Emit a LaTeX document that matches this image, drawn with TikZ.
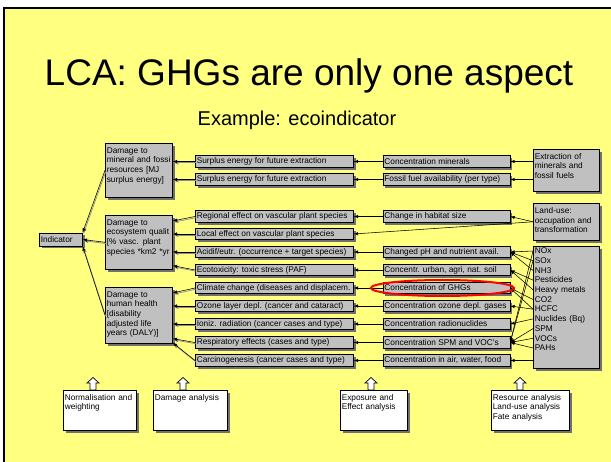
\documentclass[tikz,border=0pt]{standalone}
\usepackage{fontspec}
\setmainfont{Liberation Sans}
\usetikzlibrary{shapes.geometric, arrows, positioning, shadows, calc}

\definecolor{slideyellow}{HTML}{FFFF80}
\definecolor{boxgray}{HTML}{C0C0C0}
\definecolor{boxshade}{HTML}{707070}
\definecolor{arrowshade}{HTML}{8C8C8C}

\begin{document}
\begin{tikzpicture}[x=1pt, y=-1pt,
    box/.style={rectangle, draw, fill=boxgray, line width=0.6pt, inner xsep=1.5pt, font=\fontsize{8.3}{9.6}\selectfont, drop shadow={shadow xshift=2.5pt, shadow yshift=-2.5pt, fill=boxshade, opacity=1}},
    rowbox/.style={box, anchor=west, minimum height=11.5pt, inner ysep=0pt, execute at begin node={\hbox to #1\bgroup}, execute at end node={\hfil\egroup}},
    catbox/.style={rowbox=155pt},
    fatebox/.style={rowbox=124pt},
    tallbox/.style={box, anchor=north west, align=left, text width=#1, inner ysep=2pt, text height=8pt},
    stagebox/.style={tallbox=#1, fill=white},
    arrow/.style={->, >=latex, line width=0.55pt},
    shaded/.style={preaction={draw=arrowshade, line width=0.7pt, transform canvas={shift={(0.8pt,-1.2pt)}}}},
    ring/.style={draw=red, line width=2pt}
  ]
    \useasboundingbox (0,0) rectangle (611,462);
    \fill [white] (0,0) rectangle (611,462);
    \filldraw [fill=slideyellow, draw=black, line width=1.6pt] (4,8) rectangle (625,475);

    \node (title) [font=\fontsize{37}{44}\selectfont, anchor=base] at (309,86) {LCA: GHGs are only one aspect};
    \node (subtitle) [font=\fontsize{20}{24}\selectfont, anchor=base] at (297,126) {Example: ecoindicator};

    % indicator and damage boxes
    \node (ind) [rowbox=40pt, minimum height=13pt] at (39,239.5) {Indicator};
    \node (dmin) [tallbox=64pt, text depth=42pt] at (105,143) {Damage to\\mineral and fossi\\resources [MJ\\surplus energy]};
    \node (deco) [tallbox=64pt, text depth=42pt] at (105,215) {Damage to\\ecosystem qualit\\{[\% vasc. plant}\\species *km2 *yr};
    \node (dhum) [tallbox=64pt, text depth=44pt] at (105,287) {Damage to\\human health\\{[disability}\\adjusted life\\years (DALY)]};

    % damage categories
    \node (surp1) [catbox] at (195,161.5) {Surplus energy for future extraction};
    \node (surp2) [catbox] at (195,179.5) {Surplus energy for future extraction};
    \node (regio) [catbox] at (195,216.5) {Regional effect on vascular plant species};
    \node (local) [catbox] at (195,234) {Local effect on vascular plant species};
    \node (acid) [catbox] at (195,252) {Acidif/eutr. (occurrence + target species)};
    \node (ecotox) [catbox] at (195,270) {Ecotoxicity: toxic stress (PAF)};
    \node (climate) [catbox] at (195,288) {Climate change (diseases and displacem.};
    \node (ozone) [catbox] at (195,306) {Ozone layer depl. (cancer and cataract)};
    \node (ioniz) [catbox] at (195,324) {Ioniz. radiation (cancer cases and type)};
    \node (resp) [catbox] at (195,342.5) {Respiratory effects (cases and type)};
    \node (carc) [catbox] at (195,360.5) {Carcinogenesis (cancer cases and type)};

    % fate boxes
    \node (conmin) [fatebox, right=29pt of surp1] {Concentration minerals};
    \node (fossil) [fatebox, right=29pt of surp2] {Fossil fuel availability (per type)};
    \node (habit) [fatebox, right=29pt of regio] {Change in habitat size};
    \node (chph) [fatebox, right=29pt of acid] {Changed pH and nutrient avail.};
    \node (urban) [fatebox, right=29pt of ecotox] {Concentr. urban, agri, nat. soil};
    \node (ghg) [fatebox, right=29pt of climate] {Concentration of GHGs};
    \node (ozgas) [fatebox, right=29pt of ozone] {Concentration ozone depl. gases};
    \node (radio) [fatebox, right=29pt of ioniz] {Concentration radionuclides};
    \node (spmvoc) [fatebox, right=29pt of resp] {Concentration SPM and VOC's};
    \node (inair) [fatebox, right=29pt of carc] {Concentration in air, water, food};

    % resources and emissions
    \node (extr) [tallbox=63pt, text depth=30pt] at (533,149) {Extraction of\\minerals and\\fossil fuels};
    \node (landuse) [tallbox=63pt, text height=8.5pt, text depth=24.5pt] at (533,203) {Land-use:\\occupation and\\transformation};
    \node (emis) [tallbox=63pt, inner ysep=1pt, text height=6.5pt, text depth=113.5pt, font=\fontsize{8.3}{9.7}\selectfont] at (533,246) {NOx\\SOx\\NH3\\Pesticides\\Heavy metals\\CO2\\HCFC\\Nuclides (Bq)\\SPM\\VOCs\\PAHs};
    \foreach \gas [count=\i from 0] in {nox,sox,nh3,pest,heavy,co2,hcfc,nucl,spm,vocs,pahs}
      \coordinate (\gas) at ($(emis.north west)+(0,5+9.7*\i)$);

    % analysis stages
    \node (norm) [stagebox=70pt, text depth=28pt] at (63,390) {Normalisation and\\weighting};
    \node (dmgan) [stagebox=71pt, text depth=28pt] at (153,390) {Damage analysis};
    \node (expo) [stagebox=64pt, text depth=28pt] at (340,390) {Exposure and\\Effect analysis};
    \node (resan) [stagebox=75pt, text depth=28pt] at (491,390) {Resource analysis\\Land-use analysis\\Fate analysis};
    \foreach \ux in {93,183,371,520}
      \draw [fill=white, line width=0.7pt] (\ux-3,390) -- (\ux-3,383) -- (\ux-6,383) -- (\ux,377.5) -- (\ux+6,383) -- (\ux+3,383) -- (\ux+3,390) -- cycle;

    % damage -> indicator
    \draw [arrow, shaded] (dmin.west) -- (ind.north east);
    \draw [arrow, shaded] (deco.west) -- (ind.east);
    \draw [arrow, shaded] (dhum.west) -- (ind.south east);

    % categories -> damage
    \draw [arrow, shaded] (surp1) -- (dmin.east |- surp1);
    \draw [arrow, shaded] (surp2) -- (dmin.east |- surp2);
    \draw [arrow, shaded] (regio.west) -- ($(deco.north east)+(0,6)$);
    \draw [arrow, shaded] (local) -- (deco.east |- local);
    \draw [arrow, shaded] (acid) -- (deco.east |- acid);
    \draw [arrow, shaded] (ecotox.west) -- ($(deco.south east)+(0,-4)$);
    \draw [arrow, shaded] (climate.west) -- ($(dhum.north east)+(0,6)$);
    \draw [arrow, shaded] (ozone) -- (dhum.east |- ozone);
    \draw [arrow, shaded] (ioniz) -- (dhum.east |- ioniz);
    \draw [arrow, shaded] (resp.west) -- ($(dhum.south east)+(0,-5)$);
    \draw [arrow, shaded] (carc.west) -- ($(dhum.south east)+(0,-1)$);

    % fate -> categories
    \draw [arrow] (conmin) -- (surp1);
    \draw [arrow] (fossil) -- (surp2);
    \draw [arrow] (habit) -- (regio);
    \draw [arrow] (landuse.west) -- (local.east);
    \draw [arrow] (chph) -- (acid);
    \draw [arrow] (urban) -- (ecotox);
    \draw [arrow] (ghg) -- (climate);
    \draw [arrow] (ozgas) -- (ozone);
    \draw [arrow] (radio) -- (ioniz);
    \draw [arrow] (spmvoc) -- (resp);
    \draw [arrow] (inair) -- (carc);

    % resources / emissions -> fate
    \draw [arrow] (extr.west |- conmin) -- (conmin);
    \draw [arrow] (extr.west |- fossil) -- (fossil);
    \draw [arrow] (landuse.west) -- (habit.east);
    \draw [arrow] (nox) -- (chph.east);
    \draw [arrow] (sox) -- (chph.east);
    \draw [arrow] (nh3) -- (chph.east);
    \draw [arrow] (pest) -- (urban.east);
    \draw [arrow] (heavy) -- (urban.east);
    \draw [arrow] (co2) -- (ghg.east);
    \draw [arrow] (hcfc) -- (ghg.east);
    \draw [arrow] (hcfc) -- (ozgas.east);
    \draw [arrow] (nucl) -- (radio.east);
    \draw [arrow] (nox) -- (spmvoc.east);
    \draw [arrow] (sox) -- (spmvoc.east);
    \draw [arrow] (spm) -- (spmvoc.east);
    \draw [arrow] (vocs) -- (spmvoc.east);
    \draw [arrow] (pahs) -- (spmvoc.east);
    \draw [arrow] (emis.west |- inair) -- (inair);

    \draw [ring] ($(ghg.center)+(-4,0)$) ellipse [x radius=71.5, y radius=8];
  \end{tikzpicture}
\end{document}
